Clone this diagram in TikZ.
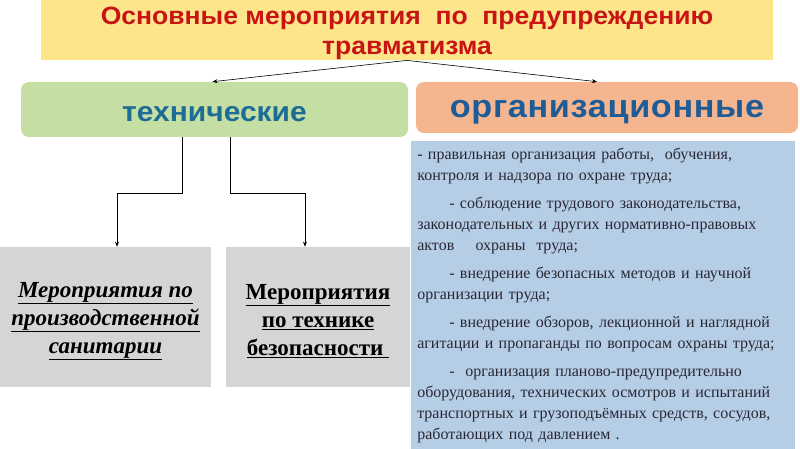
\documentclass[tikz,border=0pt]{standalone}
\usepackage{fontspec}
\setmainfont{Liberation Serif}
\newfontfamily\headfont[FakeStretch=1.07]{Liberation Sans}
\newfontfamily\titlefont[FakeStretch=1.06]{Liberation Sans}
\usepackage{xcolor}
\usepackage{tikz}
\usetikzlibrary{arrows.meta,positioning,calc}
\definecolor{injury@yellow}{RGB}{253,229,140}
\definecolor{injury@red}{RGB}{200,20,20}
\definecolor{injury@green}{RGB}{196,222,163}
\definecolor{injury@teal}{RGB}{28,108,150}
\definecolor{injury@orange}{RGB}{245,182,143}
\definecolor{injury@blue}{RGB}{30,92,152}
\definecolor{injury@pale}{RGB}{182,205,230}
\definecolor{injury@gray}{RGB}{213,213,213}
\definecolor{injury@ink}{RGB}{40,40,52}
\tikzset{
  injury/.style={
    x=1pt, y=-1pt,
    >={Stealth[length=5pt,width=4pt]},
    line width=0.6pt
  },
  titlebox/.style={                % yellow heading
    fill=injury@yellow, inner sep=0pt,
    minimum width=732pt, minimum height=60pt,
    align=center, text=injury@red,
    font=\titlefont\bfseries\fontsize{25}{30}\selectfont
  },
  techbox/.style={                 % technical group
    fill=injury@green, rounded corners=8pt, inner sep=0pt,
    minimum width=387pt, minimum height=55pt,
    text height=35pt, text depth=10pt,
    text=injury@teal,
    font=\headfont\bfseries\fontsize{28}{30}\selectfont
  },
  orgbox/.style={                  % organisational group
    fill=injury@orange, rounded corners=8pt, inner sep=0pt,
    minimum width=382pt, minimum height=51pt,
    text height=30pt, text depth=9pt,
    text=injury@blue,
    font=\headfont\bfseries\fontsize{32}{34}\selectfont\addfontfeature{LetterSpace=2}
  },
  measbox/.style={                 % grey measure box
    fill=injury@gray, inner sep=0pt,
    minimum height=140pt,
    align=center, text=black,
    font=\bfseries\fontsize{23}{28}\selectfont
  },
  listbox/.style={                 % blue list of measures
    fill=injury@pale, inner xsep=6pt, inner ysep=0pt,
    minimum width=384pt, minimum height=308pt,
    text width=372pt, align=left, text=injury@ink,
    font=\fontsize{16}{21}\selectfont
  },
  link/.style={->, draw=black, line width=0.6pt}
}
\begin{document}
\begin{tikzpicture}[injury]
\useasboundingbox (0,0) rectangle (800,449);
% Heading
\node[titlebox] (title) at (407,30)
  {\rule{0pt}{25pt}Основные мероприятия\ \ по\ \ предупреждению\\травматизма\rule[-5pt]{0pt}{5pt}};

% Two groups
\node[techbox] (tech) at (214.5,109.5) {технические};
\node[orgbox] (org) at (607,107.5) {организационные};

\draw[link] (title.south) -- ([xshift=-2pt]tech.north);
\draw[link] (title.south) -- ([xshift=-10pt]org.north);

% Technical measures
\node[measbox, minimum width=211pt] (sanit) at (105.5,317)
  {\rule{0pt}{23pt}\itshape\underline{Мероприятия по}\\
   \itshape\underline{производственной}\\
   \itshape\underline{санитарии}};
\node[measbox, minimum width=184pt] (safety) at (318,317)
  {\rule{0pt}{23pt}\underline{Мероприятия}\\
   \underline{по технике}\\
   \underline{безопасности\ }};

\draw[link] ([xshift=-32pt]tech.south) -- ++(0,56) -| ([xshift=11.5pt]sanit.north);
\draw[link] ([xshift=16pt]tech.south) -- ++(0,56) -| ([xshift=-13pt]safety.north);

% Organisational measures
\node[listbox, anchor=north west] (orglist) at (411,141)
  {- правильная организация работы,\ \ обучения,\\
   контроля и надзора по охране труда;\\[7pt]
   \hspace*{32pt}- соблюдение трудового законодательства,\\
   законодательных и других нормативно-правовых\\
   актов\ \ \ \ охраны\ \ труда;\\[7pt]
   \hspace*{32pt}- внедрение безопасных методов и научной\\
   организации труда;\\[7pt]
   \hspace*{32pt}- внедрение обзоров, лекционной и наглядной\\
   агитации и пропаганды по вопросам охраны труда;\\[7pt]
   \hspace*{32pt}-\ \ организация планово-предупредительно\\
   оборудования, технических осмотров и испытаний\\
   транспортных и грузоподъёмных средств, сосудов,\\
   работающих под давлением .};
\end{tikzpicture}
\end{document}
